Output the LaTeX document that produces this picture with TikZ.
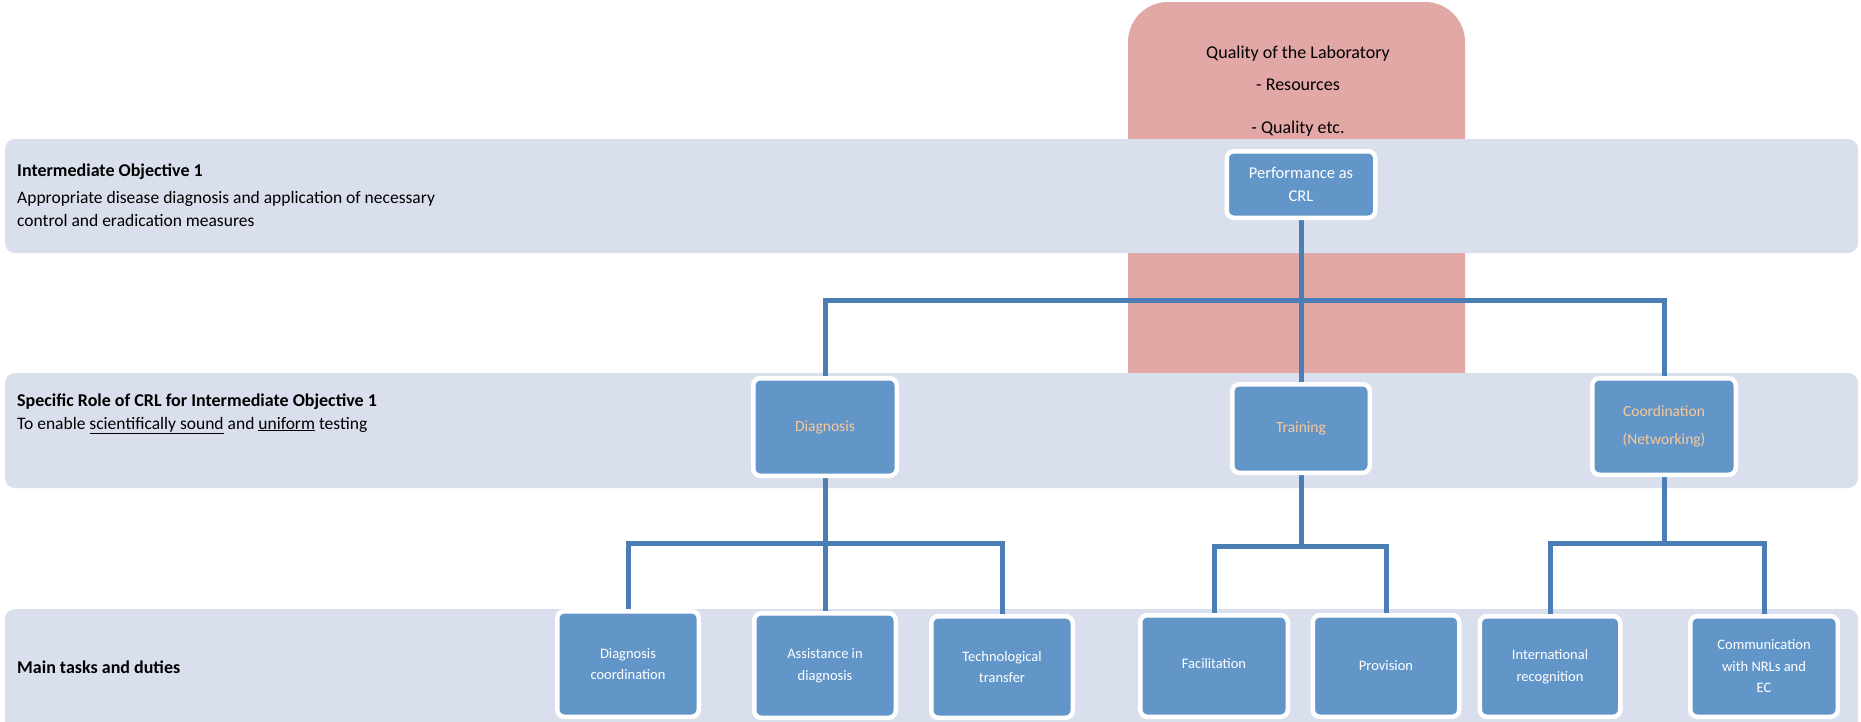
\documentclass[tikz,border=0pt]{standalone}
\usepackage{fontspec}
\setmainfont{Carlito}
\definecolor{bandfill}{RGB}{217,223,236}
\definecolor{qualfill}{RGB}{226,168,166}
\definecolor{boxfill}{RGB}{98,150,201}
\definecolor{linkblue}{RGB}{74,126,180}
\definecolor{peach}{RGB}{250,200,150}
\pgfdeclarelayer{bg}
\pgfdeclarelayer{links}
\pgfsetlayers{bg,links,main}

\begin{document}
\begin{tikzpicture}[x=1pt,y=-1pt,
  band/.style={fill=bandfill, rounded corners=10pt},
  task/.style={draw=white, line width=4.5pt, fill=boxfill, rounded corners=7pt,
    inner sep=0pt, align=center, text=white,
    font=\fontsize{14.5}{21.5}\selectfont},
  role/.style={task, text=peach, font=\fontsize{15.5}{22}\selectfont},
  link/.style={draw=linkblue, line width=5pt, line join=miter},
  bandtext/.style={anchor=base west, inner sep=0pt, text=black,
    font=\fontsize{17.5}{23}\selectfont},
  bandtitle/.style={bandtext, font=\fontsize{18}{23}\selectfont\bfseries},
  qtext/.style={anchor=base, inner sep=0pt, text=black,
    font=\fontsize{18}{23}\selectfont}
]
\useasboundingbox (0,0) rectangle (1861,721);

% backdrop: quality box and the three horizontal bands
\begin{pgfonlayer}{bg}
  \fill[white] (0,0) rectangle (1861,721);
  \fill[qualfill, rounded corners=40pt] (1128,430) -- (1128,2) -- (1465,2) -- (1465,430) -- cycle;
  \fill[band] (5,139) rectangle (1858,253);
  \fill[band] (5,373) rectangle (1858,488);
  \fill[band] (5,609) rectangle (1858,740);
\end{pgfonlayer}

% quality text
\node[qtext] (q1) at (1298,58) {Quality of the Laboratory};
\node[qtext] (q2) at (1298,90) {- Resources};
\node[qtext] (q3) at (1298,133) {- Quality etc.};

% band labels
\node[bandtitle] (io) at (17,176) {Intermediate Objective 1};
\node[bandtext] (io1) at (17,203) {Appropriate disease diagnosis and application of necessary};
\node[bandtext] (io2) at (17,226) {control and eradication measures};
\node[bandtitle] (sr) at (17,406) {Specific Role of CRL for Intermediate Objective 1};
\node[bandtext] (sr1) at (17,429) {To enable \underline{scientifically sound} and \underline{uniform} testing};
\node[bandtitle] (mt) at (17,673) {Main tasks and duties};

% top box
\node[task, minimum width=148.5pt, minimum height=66.5pt,
  font=\fontsize{16.5}{22.5}\selectfont] (perf) at (1301,184.5) {Performance as\\CRL};

% roles
\node[role, minimum width=143.5pt, minimum height=97.5pt] (diag) at (825,427) {Diagnosis};
\node[role, minimum width=137.5pt, minimum height=88.5pt] (train) at (1301,428.5) {Training};
\node[role, minimum width=143.5pt, minimum height=96.5pt,
  font=\fontsize{15.5}{28}\selectfont] (coord) at (1664,426.5) {Coordination\\(Networking)};

% tasks
\node[task, minimum width=141.5pt, minimum height=105.5pt] (t1) at (628,664) {Diagnosis\\coordination};
\node[task, minimum width=141.5pt, minimum height=104.5pt] (t2) at (825,665.5) {Assistance in\\diagnosis};
\node[task, minimum width=141.5pt, minimum height=101.5pt] (t3) at (1002,667) {Technological\\transfer};
\node[task, minimum width=147.5pt, minimum height=101.5pt] (t4) at (1214,666) {\raisebox{6pt}{Facilitation}};
\node[task, minimum width=146.5pt, minimum height=101.5pt] (t5) at (1386,666) {Provision};
\node[task, minimum width=140.5pt, minimum height=100.5pt] (t6) at (1550,666.5) {International\\recognition};
\node[task, minimum width=147.5pt, minimum height=100.5pt] (t7) at (1764,666.5) {Communication\\with NRLs and\\EC};

% connectors
\coordinate (j0) at (1301,300);
\coordinate (j1) at (825,543);
\coordinate (j2) at (1301,546);
\coordinate (j3) at (1664,543);
\begin{pgfonlayer}{links}
  \draw[link] (perf.south) -- (j0);
  \draw[link] (diag.north) |- (j0) -| (coord.north);
  \draw[link] (j0) -- (train.north);
  \draw[link] (diag.south) -- (j1);
  \draw[link] (t1.north) |- (j1) -| (t3.north);
  \draw[link] (j1) -- (t2.north);
  \draw[link] (train.south) -- (j2);
  \draw[link] (t4.north) |- (j2) -| (t5.north);
  \draw[link] (coord.south) -- (j3);
  \draw[link] (t6.north) |- (j3) -| (t7.north);
\end{pgfonlayer}
\end{tikzpicture}
\end{document}
